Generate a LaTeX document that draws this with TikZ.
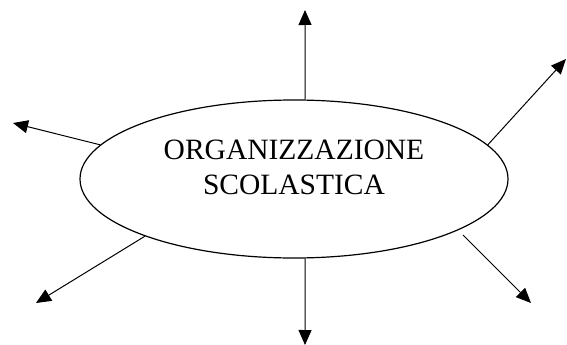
\documentclass[tikz,border=0pt]{standalone}
\usepackage{fontspec}
\setmainfont{Liberation Serif}
\usetikzlibrary{shapes.geometric,arrows.meta}

\begin{document}
\begin{tikzpicture}[x=1pt,y=-1pt,-{Triangle[length=15pt,width=13pt]},draw=black,line width=1pt]
    \tikzstyle{bubble}=[ellipse,draw=black,line width=1.2pt,minimum width=428pt,minimum height=158pt,inner sep=0pt]
    \tikzstyle{title}=[align=center,font=\fontsize{29.5}{35}\selectfont]

    \useasboundingbox (0,0) rectangle (567,345);

    % The ellipse and its text
    \node[bubble] (org) at (294,179) {};
    \node[title] (name) at (294,167) {ORGANIZZAZIONE\\SCOLASTICA};

    % Free ends of the arrows
    \coordinate (up)    at (305,10);
    \coordinate (down)  at (305,345);
    \coordinate (ul)    at (13,123);
    \coordinate (ll)    at (36,303);
    \coordinate (ur)    at (566,59);
    \coordinate (lr)    at (531,303);
    \coordinate (lrs)   at (463,235);

    % Arrows going out of the ellipse
    \draw (org.82) -- (up);
    \draw (org.278) -- (down);
    \draw (org.170) -- (ul);
    \draw (org.201) -- (ll);
    \draw (org.10) -- (ur);
    \draw (lrs) -- (lr);
\end{tikzpicture}
\end{document}
